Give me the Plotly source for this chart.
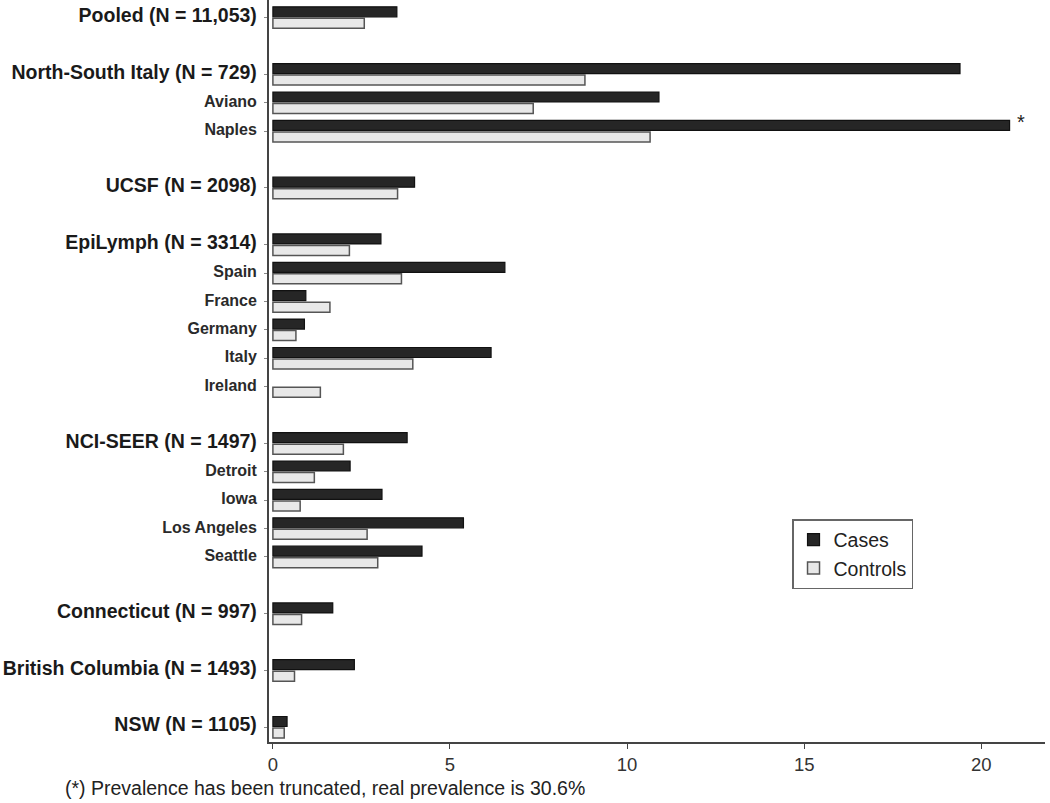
import plotly.graph_objects as go

# Study groups: (study label, sub-site labels)
studies = [
    "Pooled (N = 11,053)",
    "North-South Italy (N = 729)",
    "UCSF (N = 2098)",
    "EpiLymph (N = 3314)",
    "NCI-SEER (N = 1497)",
    "Connecticut (N = 997)",
    "British Columbia (N = 1493)",
    "NSW (N = 1105)",
]
subsites = [
    [],
    ["Aviano", "Naples"],
    [],
    ["Spain", "France", "Germany", "Italy", "Ireland"],
    ["Detroit", "Iowa", "Los Angeles", "Seattle"],
    [],
    [],
    [],
]

# prevalence (%) in row order: study, then its sub-sites
cases = [3.5, 19.4, 10.9, 20.8, 4.0, 3.05, 6.55, 0.93, 0.89, 6.16, None,
         3.79, 2.18, 3.08, 5.38, 4.21, 1.69, 2.3, 0.4]
controls = [2.58, 8.81, 7.35, 10.65, 3.52, 2.16, 3.63, 1.61, 0.65, 3.95, 1.34,
            1.99, 1.17, 0.77, 2.66, 2.96, 0.81, 0.61, 0.32]

truncated_row = "Naples"
footnote = "(*) Prevalence has been truncated, real prevalence is 30.6%"

# build row positions, leaving an empty slot between studies
rows, labels, pos = [], [], []
slot = 0
for study, subs in zip(studies, subsites):
    rows.append(study)
    labels.append(f"<span style='font-size:19.5px'><b>{study}</b></span>")
    pos.append(slot)
    slot += 1
    for s in subs:
        rows.append(s)
        labels.append(f"<span style='font-size:16px; color:#2a2a2a'><b>{s}</b></span>")
        pos.append(slot)
        slot += 1
    slot += 1

fig = go.Figure()
fig.add_trace(go.Bar(
    y=pos, x=cases, orientation="h", name="Cases",
    marker=dict(color="#262626", line=dict(color="#111111", width=1.2)),
))
fig.add_trace(go.Bar(
    y=pos, x=controls, orientation="h", name="Controls",
    marker=dict(color="#e8e8e8", line=dict(color="#555555", width=1.5)),
))

i = rows.index(truncated_row)
fig.add_annotation(
    x=cases[i], y=pos[i], text="*", showarrow=False,
    xanchor="left", xshift=5, yshift=9, font=dict(size=20, color="#222"),
)

fig.add_annotation(
    text=footnote, xref="paper", yref="paper", x=-0.2655, y=-0.062,
    xanchor="left", yanchor="middle", showarrow=False,
    font=dict(size=19.5, color="#222"),
)

fig.update_layout(
    width=1050, height=803,
    margin=dict(l=269, r=5, t=0, b=61),
    plot_bgcolor="white", paper_bgcolor="white",
    barmode="group", bargap=0.19, bargroupgap=0.13,
    font=dict(family="Liberation Sans, Arial, sans-serif", color="#222"),
    legend=dict(
        x=0.674, y=0.3005, xanchor="left", yanchor="top",
        bordercolor="#666", borderwidth=1.5, bgcolor="white",
        font=dict(size=19.5), traceorder="normal",
        entrywidth=88, entrywidthmode="pixels",
    ),
)
fig.update_xaxes(
    range=[-0.11, 21.8], tickvals=[0, 5, 10, 15, 20],
    showline=True, linecolor="#444", linewidth=1.5,
    ticks="outside", ticklen=5, tickcolor="#444",
    tickfont=dict(size=18.5, color="#333"), showgrid=False, zeroline=False,
)
fig.update_yaxes(
    range=[25.52, -0.62], tickvals=pos, ticktext=labels,
    showline=True, linecolor="#444", linewidth=1.5,
    ticks="outside", ticklen=3, tickcolor="#888",
    tickfont=dict(color="#1a1a1a"), ticklabelstandoff=5,
    showgrid=False, zeroline=False,
)

# drop the page's default body margin so the figure sits at the top-left corner
fig.write_html(
    "out.html",
    config={"displayModeBar": False},
    post_script="document.body.style.margin='0';",
)
